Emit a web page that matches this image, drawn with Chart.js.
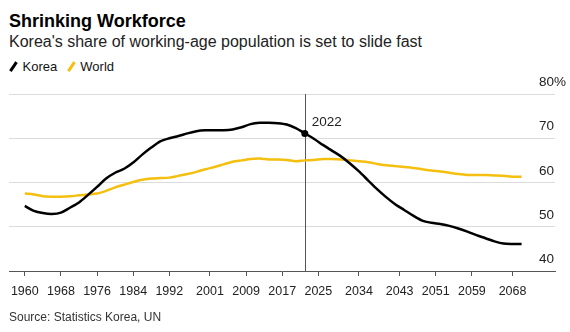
<!DOCTYPE html>
<html>
<head>
<meta charset="utf-8">
<script src="https://cdn.jsdelivr.net/npm/chart.js@4.4.0/dist/chart.umd.min.js"></script>
<style>
  body { margin: 0; background: #fff; font-family: "Liberation Sans", Arial, sans-serif; }
  .page { position: relative; width: 570px; height: 332px; overflow: hidden; }
  .txt { position: absolute; white-space: nowrap; line-height: 1; }
  .title { left: 9px; top: 12px; font-size: 18px; font-weight: bold; color: #000; }
  .subtitle { left: 9px; top: 34px; font-size: 16px; color: #222; }
  .legend { left: 9px; top: 60px; font-size: 13px; color: #111; }
  .legend .item { display: inline-block; margin-right: 6px; }
  .legend .swatch { display: inline-block; width: 2.5px; height: 11px; transform: rotate(34deg); margin: 0 8px 0 3px; vertical-align: -1px; }
  .source { left: 9px; top: 311px; font-size: 12px; color: #333; }
  .chartbox { position: absolute; left: 0; top: 0; width: 570px; height: 332px; }
</style>
</head>
<body>
<div class="page">
  <div class="txt title">Shrinking Workforce</div>
  <div class="txt subtitle">Korea's share of working-age population is set to slide fast</div>
  <div class="txt legend">
    <span class="item"><span class="swatch" style="background:#000"></span>Korea</span>
    <span class="item"><span class="swatch" style="background:#f4bf0e"></span>World</span>
  </div>
  <div class="chartbox"><canvas id="myChart"></canvas></div>
  <div class="txt source">Source: Statistics Korea, UN</div>
</div>
<script>
const years = [1960, 1962, 1964, 1966, 1968, 1970, 1972, 1974, 1976, 1978,
  1980, 1982, 1984, 1986, 1988, 1990, 1992, 1994, 1996, 1998,
  2000, 2002, 2004, 2006, 2008, 2010, 2012, 2014, 2016, 2018,
  2020, 2022, 2024, 2026, 2028, 2030, 2032, 2034, 2036, 2038,
  2040, 2042, 2044, 2046, 2048, 2050, 2052, 2054, 2056, 2058,
  2060, 2062, 2064, 2066, 2068, 2070];

const korea = [54.7, 53.6, 53.1, 52.9, 53.2, 54.3, 55.5, 57.2, 59.0, 60.9,
  62.2, 63.1, 64.5, 66.3, 67.9, 69.3, 70.0, 70.5, 71.1, 71.6,
  71.8, 71.8, 71.8, 72.0, 72.5, 73.2, 73.5, 73.5, 73.4, 73.1,
  72.3, 71.1, 69.9, 68.5, 67.2, 65.9, 64.3, 62.5, 60.5, 58.5,
  56.7, 55.1, 53.8, 52.5, 51.4, 50.9, 50.6, 50.2, 49.6, 48.9,
  48.1, 47.4, 46.7, 46.2, 46.1, 46.1];

const world = [57.5, 57.3, 56.9, 56.8, 56.8, 56.9, 57.1, 57.3, 57.5, 58.1,
  58.9, 59.5, 60.1, 60.6, 60.9, 61.0, 61.1, 61.5, 61.9, 62.4,
  63.0, 63.5, 64.1, 64.7, 65.0, 65.3, 65.4, 65.2, 65.2, 65.1,
  64.8, 65.0, 65.1, 65.3, 65.3, 65.2, 65.0, 64.8, 64.6, 64.2,
  63.9, 63.7, 63.5, 63.3, 63.0, 62.7, 62.5, 62.2, 61.9, 61.7,
  61.7, 61.7, 61.6, 61.5, 61.3, 61.3];

const xTickYears = [1960, 1968, 1976, 1984, 1992, 2001, 2009, 2017, 2025, 2034, 2043, 2051, 2059, 2068];
const yTickValues = [40, 50, 60, 70, 80];
const markYear = 2022;

const BLACK = "#000000";
const YELLOW = "#f4bf0e";
const FONT = '"Liberation Sans", Arial, sans-serif';

const toPoints = (vals) => years.map((yr, i) => ({ x: yr, y: vals[i] }));

// y labels sit above the gridlines on the right, and the 2022 marker line
const extras = {
  id: "extras",
  beforeDatasetsDraw(chart) {
    const { ctx, chartArea, scales } = chart;
    const x = Math.round(scales.x.getPixelForValue(markYear)) + 0.5;
    ctx.save();
    ctx.strokeStyle = "#555";
    ctx.lineWidth = 1;
    ctx.beginPath();
    ctx.moveTo(x, chartArea.top);
    ctx.lineTo(x, chartArea.bottom);
    ctx.stroke();
    ctx.restore();
  },
  afterDraw(chart) {
    const { ctx, scales } = chart;
    ctx.save();
    ctx.fillStyle = "#222";
    ctx.font = "13.5px " + FONT;
    ctx.textAlign = "left";
    ctx.textBaseline = "middle";
    yTickValues.forEach((v) => {
      const y = scales.y.getPixelForValue(v) - 11.5;
      ctx.fillText(v === 80 ? v + "%" : String(v), 539, y);
    });
    const mx = scales.x.getPixelForValue(markYear);
    ctx.fillText(String(markYear), mx + 7, scales.y.getPixelForValue(80) + 28.5);
    ctx.restore();
  },
};

const ctx = document.getElementById("myChart").getContext("2d");
new Chart(ctx, {
  type: "line",
  data: {
    datasets: [
      {
        label: "Korea",
        data: toPoints(korea),
        borderColor: BLACK,
        backgroundColor: BLACK,
        borderWidth: 2.5,
        tension: 0.3,
        pointRadius: (c) => (c.raw && c.raw.x === markYear ? 3.5 : 0),
        pointBorderWidth: 0,
        order: 0,
      },
      {
        label: "World",
        data: toPoints(world),
        borderColor: YELLOW,
        backgroundColor: YELLOW,
        borderWidth: 2.5,
        tension: 0.3,
        pointRadius: 0,
        order: 1,
      },
    ],
  },
  options: {
    responsive: true,
    maintainAspectRatio: false,
    animation: false,
    layout: { padding: { left: 9, right: 15, top: 94, bottom: 21 } },
    plugins: {
      legend: { display: false },
      title: { display: false },
      tooltip: { enabled: false },
    },
    scales: {
      x: {
        type: "linear",
        min: 1956.5,
        max: 2077.4,
        afterBuildTicks: (scale) => {
          scale.ticks = xTickYears.map((v) => ({ value: v }));
        },
        afterFit: (scale) => {
          scale.height = 40;
        },
        ticks: {
          autoSkip: false,
          maxRotation: 0,
          padding: 8,
          color: "#222",
          font: { family: FONT, size: 12.5 },
          callback: (v) => String(v),
        },
        grid: {
          drawOnChartArea: false,
          tickLength: 5,
          color: "#555",
        },
        border: { color: "#555", width: 1 },
      },
      y: {
        position: "right",
        min: 40,
        max: 80,
        afterBuildTicks: (scale) => {
          scale.ticks = yTickValues.map((v) => ({ value: v }));
        },
        afterFit: (scale) => {
          scale.width = 0;
        },
        ticks: { display: false },
        grid: {
          drawTicks: false,
          color: (c) => (c.tick && c.tick.value === 40 ? "rgba(0,0,0,0)" : "#dcdcdc"),
        },
        border: { display: false },
      },
    },
  },
  plugins: [extras],
});
</script>
</body>
</html>
